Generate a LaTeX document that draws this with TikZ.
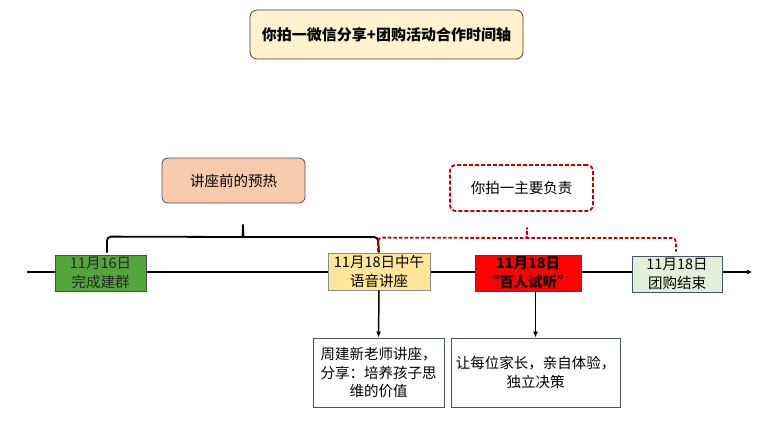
\documentclass[tikz,border=0pt]{standalone}
\usepackage{fontspec}
\setmainfont{Noto Sans CJK SC}
\usetikzlibrary{calc,arrows.meta}
\definecolor{slate}{HTML}{44546A}
\definecolor{darkred}{HTML}{C00000}

\begin{document}
\begin{tikzpicture}[x=1pt,y=-1pt,
  every node/.style={font=\fontsize{14.5}{18.5}\selectfont, align=center, inner sep=0pt},
  box/.style={draw=slate, line width=0.8pt},
  arr/.style={-{Latex[length=6pt,width=5pt]}, line width=1.5pt},
  bracepath/.style={line width=1.8pt, rounded corners=4pt}]

\useasboundingbox (0,0) rectangle (766,424);

% title and labels above the axis
\node[box, draw=black!75, fill={rgb,255:red,255;green,242;blue,204}, rounded corners=7pt,
  minimum width=273pt, minimum height=49pt, font=\fontsize{15}{18}\selectfont\bfseries]
  (title) at (386.5,34.5) {你拍一微信分享+团购活动合作时间轴};
\node[box, fill={rgb,255:red,248;green,203;blue,173}, rounded corners=6pt,
  minimum width=143pt, minimum height=45pt] (warmup) at (233.5,180.5) {讲座前的预热};
\node[draw=darkred, dash pattern=on 4pt off 2pt, line width=1.8pt, rounded corners=6pt,
  minimum width=143pt, minimum height=46pt] (lead) at (521.5,188) {你拍一主要负责};

% timeline
\coordinate (t0) at (27,272);
\coordinate (t1) at (752,272);
\draw[-{Latex[length=5pt,width=5pt]}, line width=2.2pt] (t0) -- (t1);

\node[box, draw=black!70, fill={rgb,255:red,84;green,166;blue,58}, text=black!85,
  minimum width=91pt, minimum height=36pt] (d16) at (100.5,273) {11月16日\\完成建群};
\node[box, draw=black!45, fill={rgb,255:red,255;green,230;blue,153},
  minimum width=102pt, minimum height=37pt] (d18noon) at (379,271.5) {11月18日中午\\语音讲座};
\node[box, draw={rgb,255:red,140;green,40;blue,40}, fill=red, font=\fontsize{14.5}{18.5}\selectfont\bfseries,
  minimum width=106pt, minimum height=36pt] (d18trial) at (528,273) {11月18日\\“百人试听”};
\node[box, fill={rgb,255:red,226;green,240;blue,217},
  minimum width=90pt, minimum height=36pt] (d18end) at (677,274) {11月18日\\团购结束};

% braces
\draw[bracepath] ($(d16.north)+(6.5,-2)$) -- ++(0,-16) -- (239,237)
  .. controls (242,237) and (243,232) .. (243,222)
  .. controls (243,232) and (244,237) .. (247,237) -- (378,237) -- (d18noon.north);
\draw[bracepath, draw=darkred, dash pattern=on 3.5pt off 2pt] ($(d18noon.north)+(-1,-1)$) -- ++(0,-14) -- (523,238)
  .. controls (526,238) and (527,233) .. (527,225)
  .. controls (527,233) and (528,238) .. (531,238) -- (676,238) -- ($(d18end.north)+(-1,-4)$);

% details below the axis
\node[box, minimum width=131pt, minimum height=69pt] (talk) at (378.5,372.5)
  {周建新老师讲座，\\分享：培养孩子思\\维的价值};
\node[box, minimum width=169pt, minimum height=69pt] (trial) at (535.5,372.5)
  {让每位家长，亲自体验，\\独立决策};

\draw[arr] (d18noon.south) -- (talk.north);
\draw[arr] (d18trial.south -| trial.north) -- (trial.north);

\end{tikzpicture}
\end{document}
